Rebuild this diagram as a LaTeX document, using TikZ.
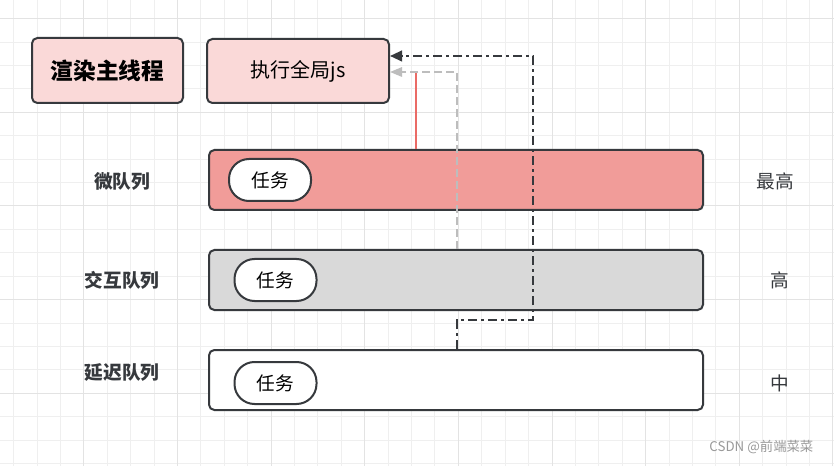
\documentclass[tikz,border=0pt]{standalone}
\usepackage{fontspec}
\setmainfont{Noto Sans CJK SC}
\usetikzlibrary{arrows.meta,calc}
\usepackage{xcolor}
\definecolor{edge}{HTML}{36393D}
\definecolor{pinkfill}{HTML}{FAD9D8}
\definecolor{redfill}{HTML}{F19C99}
\definecolor{grayfill}{HTML}{D9D9D9}
\definecolor{redline}{HTML}{EA6B66}
\definecolor{dashgray}{HTML}{BDBDBD}
\definecolor{gridminor}{HTML}{EFEFEF}
\definecolor{gridmajor}{HTML}{E3E3E3}
\tikzset{
  box/.style={draw=edge, line width=1.5pt, rounded corners=4pt, align=center, inner sep=0pt},
  pinkbox/.style={box, fill=pinkfill},
  queuebar/.style={box, minimum width=370.5pt, minimum height=45pt},
  taskpill/.style={box, fill=white, rounded corners=15pt, minimum width=61.5pt, minimum height=31.5pt, font=\fontsize{14}{16}\selectfont},
  qlabel/.style={font=\fontsize{14}{16}\selectfont\bfseries, text=edge},
  plabel/.style={font=\fontsize{14}{16}\selectfont, text=edge},
  redconn/.style={draw=redline, line width=1.5pt},
  grayconn/.style={draw=dashgray, line width=1.5pt, dash pattern=on 6pt off 3pt, -{Triangle[length=9pt, width=7pt]}},
  darkconn/.style={draw=edge, line width=1.5pt, dash pattern=on 7pt off 3pt on 2pt off 3pt, -{Triangle[length=9pt, width=8pt]}}
}

\begin{document}
\begin{tikzpicture}[x=0.75pt, y=-0.75pt]
  \useasboundingbox (0,0) rectangle (834,466);
  \fill[white] (0,0) rectangle (834,466);
  % background grid
  \foreach \i in {0,...,35} \draw[gridminor, line width=0.75pt] ({13.6+23.41*\i},0) -- ++(0,466);
  \foreach \j in {0,...,19} \draw[gridminor, line width=0.75pt] (0,{18.7+23.41*\j}) -- ++(834,0);
  \foreach \i in {3,7,...,35} \draw[gridmajor, line width=0.75pt] ({13.6+23.41*\i},0) -- ++(0,466);
  \foreach \j in {0,4,...,16} \draw[gridmajor, line width=0.75pt] (0,{18.7+23.41*\j}) -- ++(834,0);

  \node[pinkbox, minimum width=113.25pt, minimum height=48.75pt, font=\fontsize{17}{20}\selectfont\bfseries] (mainthread) at (107.5,70.5) {渲染主线程};
  \node[pinkbox, minimum width=136.5pt, minimum height=48pt, font=\fontsize{15}{18}\selectfont] (runjs) at (298,71) {执行全局js};

  \node[queuebar, fill=redfill] (microq) at (456,180) {};
  \node[queuebar, fill=grayfill] (interq) at (456,280) {};
  \node[queuebar, fill=white] (delayq) at (456,380) {};

  \node[taskpill] (task1) at (270,180) {任务};
  \node[taskpill] (task2) at (275.5,280) {任务};
  \node[taskpill] (task3) at (275.5,383) {任务};

  \node[qlabel] (microlbl) at (122,181) {微队列};
  \node[qlabel] (interlbl) at (122,280) {交互队列};
  \node[qlabel] (delaylbl) at (122,373) {延迟队列};

  \node[plabel] (toplbl) at (775,181) {最高};
  \node[plabel] (highlbl) at (780,280) {高};
  \node[plabel] (midlbl) at (780,383) {中};

  % connectors
  \coordinate (redup) at (416,72);
  \coordinate (grayup) at (457,72);
  \coordinate (dk1) at (457,320);
  \coordinate (dk2) at (533,320);
  \coordinate (dk3) at (533,56);
  \draw[redconn] (redup |- microq.north) -- (redup);
  \draw[grayconn] (grayup |- interq.north) -- (grayup) -- (grayup -| runjs.east);
  \draw[darkconn] (dk1 |- delayq.north) -- (dk1) -- (dk2) -- (dk3) -- (dk3 -| runjs.east);

  \node[text=gray!80, font=\fontsize{10}{12}\selectfont, anchor=east] (mark) at (818,447) {CSDN @前端菜菜};
\end{tikzpicture}
\end{document}
